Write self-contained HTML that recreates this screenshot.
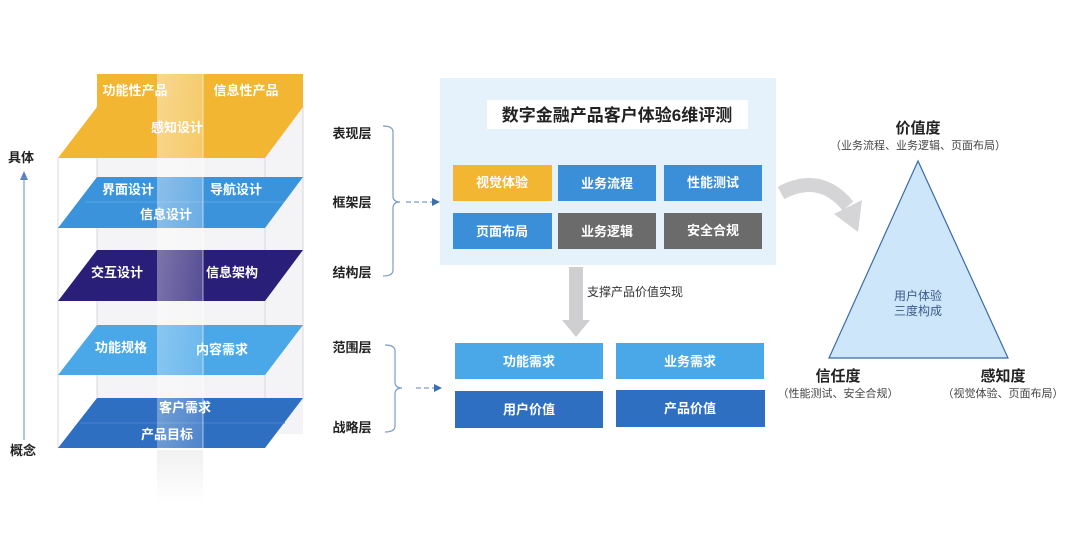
<!DOCTYPE html>
<html><head><meta charset="utf-8"><style>
html,body{margin:0;padding:0;background:#fff}
svg{display:block}
text{font-family:"Liberation Sans","Noto Sans CJK SC",sans-serif}
</style></head><body>
<svg width="1080" height="552" viewBox="0 0 1080 552" xmlns="http://www.w3.org/2000/svg">
<defs>
<linearGradient id="pl" x1="0" y1="0" x2="1" y2="1">
<stop offset="0" stop-color="#fff" stop-opacity="0.45"/>
<stop offset="1" stop-color="#fff" stop-opacity="0.15"/>
</linearGradient>
<linearGradient id="fade" x1="0" y1="0" x2="0" y2="1">
<stop offset="0" stop-color="#e8e8ea" stop-opacity="0.6"/>
<stop offset="1" stop-color="#e8e8ea" stop-opacity="0"/>
</linearGradient>
</defs>
<!-- box outline -->
<rect x="97" y="74" width="206" height="360" fill="#f4f4f6"/>
<g stroke="#d8d8dc" stroke-width="1">
<line x1="58" y1="158" x2="58" y2="448"/><line x1="97" y1="106" x2="97" y2="398"/>
<line x1="265" y1="158" x2="265" y2="448"/><line x1="303" y1="106" x2="303" y2="398"/>
</g>
<!-- yellow -->
<rect x="97" y="74" width="206" height="33" fill="#f2b632"/>
<polygon points="97,107 303,107 265,158 58,158" fill="#f2b632"/>
<!-- blue layer 2 -->
<polygon points="97,177 303,177 265,228 58,228" fill="#3b93dc"/>
<line x1="85" y1="202" x2="284" y2="202" stroke="#5aa6e3" stroke-width="1"/>
<!-- navy -->
<polygon points="97,250 303,250 265,301 58,301" fill="#2a1f78"/>
<!-- light blue -->
<polygon points="97,325 303,325 265,375 58,375" fill="#4aa8e8"/>
<!-- blue bottom -->
<polygon points="97,398 303,398 265,448 58,448" fill="#2f6fc2"/>
<line x1="80" y1="423" x2="285" y2="423" stroke="#4a86cc" stroke-width="1"/>
<!-- translucent plane -->
<rect x="157" y="74" width="46" height="380" fill="url(#pl)"/>
<rect x="157" y="450" width="46" height="55" fill="url(#fade)"/>
<line x1="203" y1="74" x2="203" y2="448" stroke="#fff" stroke-opacity="0.6"/>
<g fill="#fff" font-size="13" font-weight="bold" text-anchor="middle">
<text x="135" y="95">功能性产品</text><text x="246" y="95">信息性产品</text>
<text x="177" y="132">感知设计</text>
<text x="128" y="194">界面设计</text><text x="236" y="194">导航设计</text>
<text x="166" y="219">信息设计</text>
<text x="117" y="277">交互设计</text><text x="232" y="277">信息架构</text>
<text x="121" y="352">功能规格</text><text x="222" y="354">内容需求</text>
<text x="185" y="412">客户需求</text><text x="167" y="439">产品目标</text>
</g>
<!-- concept axis -->
<line x1="24" y1="440" x2="24" y2="178" stroke="#7d9cc8" stroke-width="1.2"/>
<polygon points="20,180 28,180 24,171" fill="#5a82bd"/>
<g font-size="13" font-weight="bold" fill="#222" text-anchor="middle">
<text x="21" y="162">具体</text><text x="23" y="455">概念</text>
<text x="352" y="138">表现层</text><text x="352" y="207">框架层</text><text x="352" y="277">结构层</text>
<text x="352" y="352">范围层</text><text x="352" y="432">战略层</text>
</g>
<!-- brackets -->
<g fill="none" stroke="#7d9cc8" stroke-width="1.2">
<path d="M383,126 Q393,126 393,132 L393,196 Q393,202 400,202 Q393,202 393,208 L393,270 Q393,276 383,276"/>
<path d="M385,345 Q395,345 395,351 L395,382 Q395,388 402,388 Q395,388 395,394 L395,426 Q395,432 385,432"/>
<line x1="406" y1="202" x2="432" y2="202" stroke-dasharray="5,3"/>
<line x1="416" y1="388" x2="434" y2="388" stroke-dasharray="5,3"/>
</g>
<polygon points="432,198 440,202 432,206" fill="#3a6fb0"/>
<polygon points="434,384 442,388 434,392" fill="#3a6fb0"/>
<!-- panel -->
<rect x="440" y="78" width="336" height="187" fill="#e6f2fb"/>
<rect x="487" y="100" width="261" height="29" fill="#fff"/>
<text x="617" y="121" font-size="17" font-weight="bold" fill="#222" text-anchor="middle">数字金融产品客户体验6维评测</text>
<rect x="453" y="165" width="99" height="36" fill="#f2b632"/>
<rect x="558" y="165" width="98" height="36" fill="#3a8fd8"/>
<rect x="664" y="165" width="98" height="36" fill="#3a8fd8"/>
<rect x="453" y="213" width="99" height="36" fill="#3a8fd8"/>
<rect x="558" y="213" width="98" height="36" fill="#6b6b6b"/>
<rect x="664" y="213" width="98" height="36" fill="#6b6b6b"/>
<g fill="#fff" font-size="13" font-weight="bold" text-anchor="middle">
<text x="502" y="187">视觉体验</text><text x="607" y="188">业务流程</text><text x="713" y="187">性能测试</text>
<text x="502" y="236">页面布局</text><text x="607" y="236">业务逻辑</text><text x="713" y="235">安全合规</text>
</g>
<!-- down arrow -->
<polygon points="569,267 583,267 583,320 590,320 576,337 562,320 569,320" fill="#cfcfd1"/>
<text x="587" y="296" font-size="12" fill="#333">支撑产品价值实现</text>
<rect x="455" y="343" width="148" height="36" fill="#4aa8e8"/>
<rect x="616" y="343" width="148" height="36" fill="#4aa8e8"/>
<rect x="455" y="391" width="148" height="37" fill="#2f6fc2"/>
<rect x="616" y="390" width="149" height="37" fill="#2f6fc2"/>
<g fill="#fff" font-size="13" font-weight="bold" text-anchor="middle">
<text x="529" y="366">功能需求</text><text x="690" y="366">业务需求</text>
<text x="529" y="414">用户价值</text><text x="690" y="413">产品价值</text>
</g>
<!-- curved arrow -->
<path d="M781,193 Q820,172 848,206" fill="none" stroke="#d5d5d7" stroke-width="14"/>
<polygon points="834,214 862,200 858,232" fill="#d5d5d7"/>
<!-- triangle -->
<polygon points="918,161 829,358 1008,358" fill="#cde6fa" stroke="#3a6aa8" stroke-width="1.2"/>
<g text-anchor="middle">
<text x="918" y="133" font-size="15" font-weight="bold" fill="#222">价值度</text>
<text x="918" y="149" font-size="11" fill="#444">（业务流程、业务逻辑、页面布局）</text>
<text x="838" y="381" font-size="15" font-weight="bold" fill="#222">信任度</text>
<text x="838" y="397" font-size="11" fill="#444">（性能测试、安全合规）</text>
<text x="1003" y="381" font-size="15" font-weight="bold" fill="#222">感知度</text>
<text x="1003" y="397" font-size="11" fill="#444">（视觉体验、页面布局）</text>
<text x="918" y="300" font-size="12" fill="#3a5a8a">用户体验</text>
<text x="918" y="315" font-size="12" fill="#3a5a8a">三度构成</text>
</g>
</svg>
</body></html>
